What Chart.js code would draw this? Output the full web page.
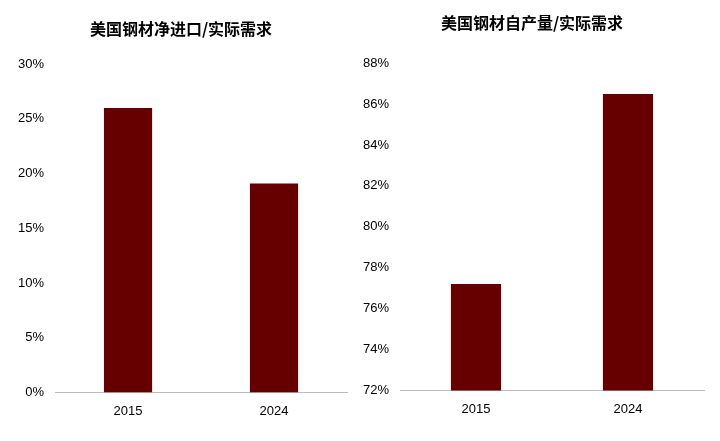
<!DOCTYPE html>
<html><head><meta charset="utf-8">
<script src="https://cdn.jsdelivr.net/npm/chart.js@4"></script>
<style>body{margin:0;background:#fff;width:720px;height:441px;position:relative;overflow:hidden}
.c{position:absolute;top:0;height:441px}</style></head><body>
<div class="c" style="left:0;width:355px"><canvas id="a"></canvas></div>
<div class="c" style="left:355px;width:365px"><canvas id="b"></canvas></div>
<script>
const categories=['2015','2024'];
const netImportShare=[26.0,19.1];
const selfProdShare=[77.2,86.5];
const leftTitle='美国钢材净进口/实际需求';
const rightTitle='美国钢材自产量/实际需求';
function mk(id,title,data,min,max,step,pad){
 new Chart(document.getElementById(id),{type:'bar',
 data:{labels:categories,datasets:[{data:data,backgroundColor:'#660000',barPercentage:0.33,categoryPercentage:1}]},
 options:{responsive:true,maintainAspectRatio:false,animation:false,
  layout:{padding:pad},
  plugins:{legend:{display:false},tooltip:{enabled:false},
   title:{display:true,text:title,color:'#000',font:{size:16,weight:'bold',family:'Noto Sans CJK SC'},padding:{top:0,bottom:pad.tb}}},
  scales:{x:{grid:{display:false},border:{color:'#bbb'},ticks:{color:'#000',font:{size:13,family:'Liberation Sans'}}},
   y:{min:min,max:max,grid:{display:false},border:{display:false},
    ticks:{stepSize:step,color:'#000',font:{size:13,family:'Liberation Sans'},callback:v=>v+'%'}}}}});
}
mk('a',leftTitle,netImportShare,0,30,5,{top:19,left:15,right:8,bottom:19,tb:26});
mk('b',rightTitle,selfProdShare,72,88,2,{top:13,left:5,right:16,bottom:21,tb:31});
</script></body></html>
